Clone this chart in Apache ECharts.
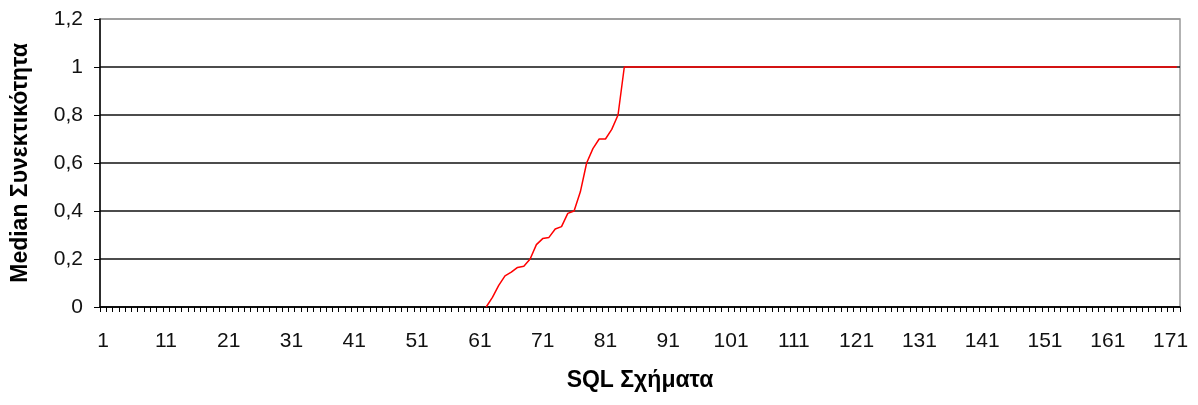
<!DOCTYPE html>
<html>
<head>
<meta charset="utf-8">
<script src="https://cdn.jsdelivr.net/npm/echarts@6/dist/echarts.min.js"></script>
<style>html,body{margin:0;padding:0;background:#fff;}#c{width:1198px;height:405px;}</style>
</head>
<body>
<div id="c"></div>
<script>
var xAxisTitle = 'SQL Σχήματα';
var yAxisTitle = 'Median Συνεκτικότητα';
var categoryCount = 172;
var categories = [];
for (var i = 1; i <= categoryCount; i++) categories.push(String(i));
var yTicks = [0, 0.2, 0.4, 0.6, 0.8, 1, 1.2];
var medianValues = [
  null,null,null,null,null,null,null,null,null,null,
  null,null,null,null,null,null,null,null,null,null,
  null,null,null,null,null,null,null,null,null,null,
  null,null,null,null,null,null,null,null,null,null,
  null,null,null,null,null,null,null,null,null,null,
  null,null,null,null,null,null,null,null,null,null,
  null,
  0, 0.04, 0.09, 0.13, 0.145, 0.165, 0.17, 0.2, 0.26, 0.285,
  0.29, 0.325, 0.335, 0.39, 0.40, 0.48, 0.60, 0.66, 0.70, 0.70,
  0.74, 0.80, 1,
  1,1,1,1,1,1,1,1,1,1,
  1,1,1,1,1,1,1,1,1,1,
  1,1,1,1,1,1,1,1,1,1,
  1,1,1,1,1,1,1,1,1,1,
  1,1,1,1,1,1,1,1,1,1,
  1,1,1,1,1,1,1,1,1,1,
  1,1,1,1,1,1,1,1,1,1,
  1,1,1,1,1,1,1,1,1,1,
  1,1,1,1,1,1,1,1
];

var chart = echarts.init(document.getElementById('c'), null, {renderer: 'canvas'});
var font = '"Liberation Sans", Arial, sans-serif';
chart.setOption({
  animation: false,
  backgroundColor: '#fff',
  grid: {left: 100, right: 18, top: 19, bottom: 98, show: true, borderColor: '#999', borderWidth: 1.5, backgroundColor: 'transparent'},
  xAxis: {
    type: 'category',
    data: categories,
    boundaryGap: true,
    name: xAxisTitle,
    nameLocation: 'middle',
    nameGap: 62,
    nameTextStyle: {fontFamily: font, fontSize: 23, fontWeight: 'bold', color: '#000'},
    axisLine: {lineStyle: {color: '#000', width: 1.5}},
    axisTick: {show: true, interval: 0, length: 5, lineStyle: {color: '#000', width: 1}},
    axisLabel: {interval: 9, margin: 24, fontFamily: font, fontSize: 21, color: '#111'},
    splitLine: {show: false}
  },
  yAxis: {
    type: 'value',
    min: yTicks[0],
    max: yTicks[yTicks.length - 1],
    interval: 0.2,
    name: yAxisTitle,
    nameLocation: 'middle',
    nameGap: 68,
    nameTextStyle: {fontFamily: font, fontSize: 23, fontWeight: 'bold', color: '#000'},
    axisLine: {show: true, lineStyle: {color: '#000', width: 1.5}},
    axisTick: {show: true, length: 6, lineStyle: {color: '#000', width: 1}},
    axisLabel: {margin: 17, fontFamily: font, fontSize: 21, color: '#111',
      formatter: function (v) { return String(Math.round(v * 10) / 10).replace('.', ','); }},
    splitLine: {show: true, lineStyle: {color: ['#111', '#111', '#111', '#111', '#111', '#111', '#999'], width: 1.5}}
  },
  series: [{
    type: 'line',
    data: medianValues,
    showSymbol: false,
    symbol: 'none',
    connectNulls: false,
    lineStyle: {color: '#ff0000', width: 1.5},
    itemStyle: {color: '#ff0000'},
    z: 5
  }]
});
</script>
</body>
</html>
